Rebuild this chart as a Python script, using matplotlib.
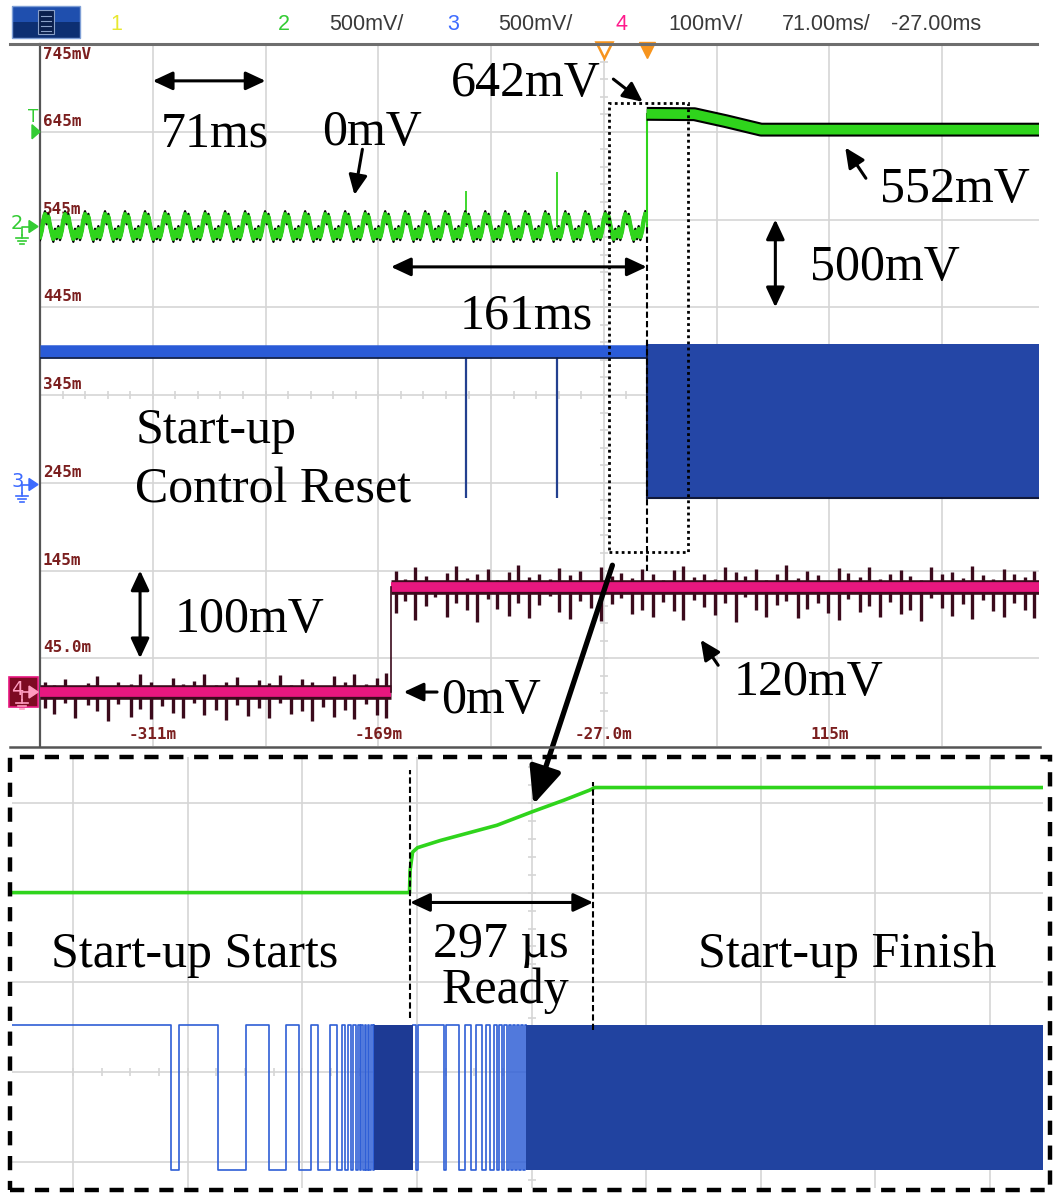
import numpy as np
import matplotlib.pyplot as plt
from matplotlib.lines import Line2D
from matplotlib.patches import Rectangle, Polygon

plt.rcParams['font.family'] = ['Liberation Serif', 'DejaVu Serif']

# ---------------- main capture (71 ms/div) ----------------
ms_per_div = 71
t_left, t_right = -382, 247      # ms visible on screen
t_delay = -27                    # horizontal position = screen centre
t_trig = 0
ch2_mv_div, ch3_mv_div, ch4_mv_div = 500, 500, 100

# ground positions in divisions from the bottom of the screen
ch2_gnd, ch3_gnd, ch4_gnd = 5.92, 2.98, 0.615

# ch4 scale readout on the left edge, time readout along the bottom
ylab_div = [1, 2, 3, 4, 5, 6, 7]
ylab_txt = ['45.0m', '145m', '245m', '345m', '445m', '545m', '645m']
top_lab = '745mV'
xlab_t = [-311, -169, -27, 115, 257]
xlab_txt = ['-311m', '-169m', '-27.0m', '115m', '257m']

# ch2 (green) output voltage, mV
ch2_ripple_mv = [-60, -25, 35, 70, 30, 55, 5, -35, -70, -30, -55, -15]
ch2_ripple_ms = 12.6
ch2_spike_t = [-113.6, -56.3]
ch2_spike_mv = [200, 310]
ch2_post_t = [0, 30, 50, 72, 247]
ch2_post_mv = [642, 640, 600, 552, 552]
ch2_trig_mv = 540

# ch3 (blue) control reset, mV
ch3_high_mv, ch3_low_mv = 760, -75
ch3_dip_t = [-113.6, -56.3]
ch3_switch_t = 0

# ch4 (pink) start-up signal, mV
ch4_step_t = -161
ch4_high_mv = 120
pink_lo_t = [-379, -373, -366, -360, -352, -346, -339, -333, -325, -319,
             -312, -305, -298, -292, -285, -279, -271, -265, -258, -251,
             -244, -238, -231, -224, -217, -211, -204, -197, -190, -184,
             -177, -170, -164]
pink_lo_up = [12, 8, 15, 6, 10, 18, 7, 12, 9, 20, 11, 6, 16, 9, 13, 21, 8,
              12, 17, 7, 14, 10, 19, 8, 15, 11, 6, 18, 12, 20, 9, 16, 22]
pink_lo_dn = [18, 25, 12, 30, 15, 22, 33, 14, 28, 19, 31, 16, 24, 30, 12, 26,
              20, 32, 15, 27, 18, 30, 13, 25, 22, 33, 17, 29, 21, 31, 14, 26, 30]
pink_hi_t = [-158, -152, -146, -139, -133, -126, -120, -113, -107, -100,
             -94, -87, -81, -74, -68, -61, -55, -48, -42, -35,
             -29, -22, -16, -9, -3, 4, 10, 17, 23, 30,
             36, 43, 49, 56, 62, 69, 75, 82, 88, 95,
             101, 108, 114, 121, 127, 134, 140, 147, 153, 160,
             166, 173, 179, 186, 192, 199, 205, 212, 218, 225,
             231, 238, 244]
pink_hi_up = [18, 9, 22, 12, 7, 16, 24, 10, 14, 20, 8, 17, 25, 11, 15, 9, 21,
              13, 18, 7, 23, 12, 16, 10, 20, 14, 8, 19, 24, 11, 15, 9, 22, 17,
              12, 20, 8, 14, 25, 10, 18, 13, 7, 21, 16, 11, 23, 9, 15, 19, 12,
              8, 22, 14, 17, 10, 24, 13, 9, 20, 15, 11, 18]
pink_hi_dn = [30, 16, 38, 22, 12, 34, 19, 27, 40, 14, 25, 33, 18, 36, 21, 11,
              29, 37, 16, 24, 39, 20, 13, 31, 26, 35, 17, 28, 38, 15, 23, 32,
              19, 40, 12, 27, 34, 21, 16, 36, 25, 18, 30, 38, 14, 29, 22, 35,
              17, 31, 26, 39, 13, 24, 33, 20, 37, 15, 28, 34, 19, 27, 36]

# zoomed window on the main capture (ms, div)
win_t = (-24, 26)
win_div = (2.21, 7.33)

# ---------------- zoomed capture (us) ----------------
us_per_div = 186
z_left, z_right = -646, 1027
z_grid0 = -547
ready_us = 297
zg_t = [-646, -1, 0, 4, 12, 49, 141, 198, 250, 291, 300, 1027]
zg_div = [3.0, 3.0, 3.25, 3.45, 3.5, 3.58, 3.75, 3.9, 4.03, 4.14, 4.17, 4.17]
zb_hi, zb_lo = 1.53, -0.09
zb_edges_a = [-388, -375, -312, -266, -229, -201, -180, -161, -149, -130,
              -118, -110, -105, -100, -96, -92, -88, -85, -82, -79, -76, -73,
              -71, -68, -66, -63, -61, -59]
zb_dense_a = (-58, 4)
zb_edges_b = [9, 13, 55, 58, 80, 89, 99, 107, 117, 123, 130, 136, 141, 145,
              149, 153, 157, 160, 164, 167, 171, 174, 177, 180, 183, 186]
zb_dense_b = (188, 1027)

GREEN = '#2fd41c'
BLUE = '#2a5bd7'
BLUE_FILL = '#2446a6'
PINK = '#e8177f'
NOISE = '#3b0a1c'
GRID = '#d5d5d5'
RED_TXT = '#7b1f1f'

W, H = 1057, 1196
fig = plt.figure(figsize=(W / 100, H / 100), dpi=100)


def box(x0, y0, x1, y1):
    return [x0 / W, 1 - y1 / H, (x1 - x0) / W, (y1 - y0) / H]


def fline(xs, ys, **kw):
    fig.add_artist(Line2D(np.array(xs) / W, 1 - np.array(ys) / H,
                          transform=fig.transFigure, **kw))


def fpoly(pts, **kw):
    fig.add_artist(Polygon([(x / W, 1 - y / H) for x, y in pts],
                           closed=True, transform=fig.transFigure, **kw))


def arrow(a, xy, xytext, style='-|>', lw=2.2, scale=20):
    a.annotate('', xy=xy, xytext=xytext,
               arrowprops=dict(arrowstyle=style + ',head_length=0.6,head_width=0.28',
                               mutation_scale=scale, lw=lw, color='black',
                               shrinkA=0, shrinkB=0),
               annotation_clip=False)


def label(a, x, y, s, ha='center'):
    a.text(x, y, s, fontsize=36, ha=ha, va='baseline', color='black', zorder=10)


# ---------------- main screen ----------------
ax = fig.add_axes(box(40, 44, 1039, 746))
ax.set_xlim(t_left, t_right)
ax.set_ylim(0, 8)
ax.set_xticks([])
ax.set_yticks([])
for s in ['top', 'right', 'bottom']:
    ax.spines[s].set_visible(False)
ax.spines['left'].set_color('#555555')
ax.spines['left'].set_linewidth(1.6)

grid_t = np.arange(t_left + ms_per_div, t_right, ms_per_div)
ax.vlines(grid_t, 0, 8, color=GRID, lw=1.2, zorder=0)
ax.hlines(range(1, 8), t_left, t_right, color=GRID, lw=1.2, zorder=0)
ax.hlines(np.arange(0.2, 8, 0.2), t_delay - 2.5, t_delay + 2.5, color=GRID, lw=1.2, zorder=0)
ax.vlines(np.arange(t_left, t_right, ms_per_div / 5), 3.955, 4.045, color=GRID, lw=1.2, zorder=0)

for d, s in zip(ylab_div, ylab_txt):
    ax.annotate(s, (t_left, d), xytext=(2, 2), textcoords='offset points',
                fontsize=11.5, family='DejaVu Sans Mono', weight='bold',
                color=RED_TXT, va='bottom', ha='left')
ax.annotate(top_lab, (t_left, 8), xytext=(2, -2), textcoords='offset points',
            fontsize=11.5, family='DejaVu Sans Mono', weight='bold',
            color=RED_TXT, va='top', ha='left')
for t, s in zip(xlab_t, xlab_txt):
    ax.annotate(s, (t, 0), xytext=(0, 8), textcoords='offset points',
                fontsize=11.5, family='DejaVu Sans Mono', weight='bold',
                color=RED_TXT, va='center', ha='center', clip_on=True)

# ch4: pink trace with dark noise
lo4 = ch4_gnd
hi4 = ch4_gnd + ch4_high_mv / ch4_mv_div
ax.vlines(pink_lo_t, lo4 - np.array(pink_lo_dn) / ch4_mv_div,
          lo4 + np.array(pink_lo_up) / ch4_mv_div, color=NOISE, lw=2.4, zorder=2)
ax.vlines(pink_hi_t, hi4 - np.array(pink_hi_dn) / ch4_mv_div,
          hi4 + np.array(pink_hi_up) / ch4_mv_div, color=NOISE, lw=2.4, zorder=2)
for a, b, lvl in [(t_left, ch4_step_t, lo4), (ch4_step_t, t_right, hi4)]:
    ax.plot([a, b], [lvl, lvl], color=NOISE, lw=10.5, solid_capstyle='butt', zorder=3)
    ax.plot([a, b], [lvl, lvl], color=PINK, lw=7, solid_capstyle='butt', zorder=3)
ax.plot([ch4_step_t, ch4_step_t], [lo4, hi4], color=NOISE, lw=1.2, zorder=3)

# ch3: blue reset line, switching after start-up
hi3 = ch3_gnd + ch3_high_mv / ch3_mv_div
lo3 = ch3_gnd + ch3_low_mv / ch3_mv_div
ax.vlines(ch3_dip_t, lo3, hi3, color='#23408f', lw=1.6, zorder=2)
ax.plot([t_left, ch3_switch_t], [hi3, hi3], color=BLUE, lw=9, solid_capstyle='butt', zorder=3)
ax.plot([t_left, ch3_switch_t], [hi3 - 0.08, hi3 - 0.08], color='#10204a', lw=1.3, zorder=3)
ax.fill_between([ch3_switch_t, t_right], lo3, hi3 + 0.08, color=BLUE_FILL, lw=0, zorder=3)
ax.plot([ch3_switch_t, t_right], [lo3, lo3], color='#10183a', lw=1.5, zorder=3)
ax.plot([ch3_switch_t, ch3_switch_t], [lo3, hi3 + 0.08], color='#10183a', lw=1.5, zorder=3)

# ch2: ripple before start-up, then step and settle
step = ch2_ripple_ms / len(ch2_ripple_mv)
n = int((t_trig - t_left) / step) + 1
rt = t_left + np.arange(n) * step
rv = ch2_gnd + np.resize(ch2_ripple_mv, n) / ch2_mv_div
ax.vlines(ch2_spike_t, ch2_gnd, ch2_gnd + np.array(ch2_spike_mv) / ch2_mv_div,
          color=GREEN, lw=1.3, zorder=4)
ax.plot(rt, rv + 0.035, color='black', lw=1.6, zorder=4)
ax.plot(rt, rv - 0.035, color='black', lw=1.6, zorder=4)
ax.plot(rt, rv, color=GREEN, lw=3.2, zorder=4)
ax.plot([t_trig, t_trig], [ch2_gnd, ch2_gnd + ch2_post_mv[0] / ch2_mv_div],
        color=GREEN, lw=1.5, zorder=4)
post = ch2_gnd + np.array(ch2_post_mv) / ch2_mv_div
ax.plot(ch2_post_t, post, color='black', lw=10, solid_capstyle='butt', zorder=4)
ax.plot(ch2_post_t, post, color=GREEN, lw=7, solid_capstyle='butt', zorder=4)

# trigger / delay markers at the top edge
ax.plot([t_delay], [7.93], marker='v', ms=11, mfc='white', mec='#f7941d', mew=1.8,
        clip_on=False, zorder=6)
ax.plot([t_trig], [7.93], marker='v', ms=11, color='#f7941d', clip_on=False, zorder=6)

# zoom window and start-up marker
ax.add_patch(Rectangle((win_t[0], win_div[0]), win_t[1] - win_t[0], win_div[1] - win_div[0],
                       fill=False, ls=(0, (1, 1.2)), lw=2, ec='black', zorder=7))
ax.vlines([t_trig], 2.0, 5.95, colors='black', ls=(0, (3, 1.5)), lw=1.5, zorder=7)

# annotations on the main screen
arrow(ax, (t_left + 2 * ms_per_div, 7.58), (t_left + ms_per_div, 7.58), '<|-|>')
label(ax, -272, 6.83, f'{ms_per_div}ms')
arrow(ax, (-184, 6.28), (-179, 6.8))
label(ax, -173, 6.85, '0mV')
arrow(ax, (-2.5, 7.34), (-21, 7.6))
label(ax, -76, 7.41, f'{ch2_post_mv[0]}mV')
arrow(ax, (125, 6.82), (138, 6.47))
label(ax, 194, 6.2, f'{ch2_post_mv[-1]}mV')
arrow(ax, (81, 6.0), (81, 5.0), '<|-|>')
label(ax, 150, 5.31, f'{ch2_mv_div}mV')
arrow(ax, (t_trig, 5.46), (ch4_step_t, 5.46), '<|-|>')
label(ax, -76, 4.76, f'{t_trig - ch4_step_t}ms')
label(ax, -322, 3.45, 'Start-up', ha='left')
label(ax, -322, 2.78, 'Control Reset', ha='left')
arrow(ax, (-319, 2.0), (-319, 1.0), '<|-|>')
label(ax, -250, 1.30, f'{ch4_mv_div}mV')
arrow(ax, (-153, ch4_gnd), (-132, ch4_gnd))
label(ax, -98, 0.376, '0mV')
arrow(ax, (34, 1.21), (45, 0.92))
label(ax, 102, 0.58, f'{ch4_high_mv}mV')

# ---------------- zoomed screen ----------------
axz = fig.add_axes(box(12, 757, 1043, 1188))
axz.set_xlim(z_left, z_right)
axz.set_ylim(-0.29, 4.51)
axz.set_xticks([])
axz.set_yticks([])
for s in axz.spines.values():
    s.set_visible(False)

zgrid = np.arange(z_grid0, z_right, us_per_div)
axz.vlines(zgrid, -0.29, 4.51, color=GRID, lw=1.2, zorder=0)
axz.hlines(range(0, 5), z_left, z_right, color=GRID, lw=1.2, zorder=0)
zc = z_grid0 + 4 * us_per_div
axz.hlines(np.arange(-0.2, 4.5, 0.2), zc - 6.5, zc + 6.5, color=GRID, lw=1.2, zorder=0)
axz.vlines(np.arange(z_grid0, z_right, us_per_div / 4), 0.955, 1.045, color=GRID, lw=1.2, zorder=0)


def square(t0, t1, edges, hi, lo):
    ts, ys, level = [t0], [hi], hi
    for e in edges:
        ts.append(e)
        ys.append(level)
        level = lo if level == hi else hi
        ts.append(e)
        ys.append(level)
    ts.append(t1)
    ys.append(level)
    return ts, ys


for t0, t1, edges in [(z_left, zb_dense_a[0], zb_edges_a),
                      (zb_dense_a[1], zb_dense_b[0], zb_edges_b)]:
    ts, ys = square(t0, t1, edges, zb_hi, zb_lo)
    axz.plot(ts, ys, color='#2f5fd6', lw=1.2, zorder=3)
axz.fill_between(zb_dense_a, zb_lo, zb_hi, color='#1d3a94', lw=0, zorder=3)
axz.fill_between(zb_dense_b, zb_lo, zb_hi, color='#2143a0', lw=0, zorder=3)

axz.plot(zg_t, zg_div, color=GREEN, lw=2.6, zorder=4)

axz.vlines([0], 1.6, 4.37, colors='black', ls=(0, (3, 1.5)), lw=1.5, zorder=5)
axz.vlines([ready_us], 1.47, 4.23, colors='black', ls=(0, (3, 1.5)), lw=1.5, zorder=5)
arrow(axz, (ready_us, 2.89), (0, 2.89), '<|-|>')
label(axz, 148, 2.28, f'{ready_us} µs')
label(axz, 154, 1.77, 'Ready')
label(axz, -349, 2.17, 'Start-up Starts')
label(axz, 709, 2.17, 'Start-up Finish')

# link from the zoom window to the zoomed capture
axz.annotate('', xy=(200, 3.98), xytext=(-21.6, 2.06), textcoords=ax.transData,
             arrowprops=dict(arrowstyle='-|>,head_length=0.5,head_width=0.22',
                             mutation_scale=45, lw=3.8, color='black',
                             shrinkA=0, shrinkB=0),
             annotation_clip=False)

fig.add_artist(Rectangle((10 / W, 1 - 1190 / H), 1040 / W, 433 / H, fill=False,
                         transform=fig.transFigure, ec='black', lw=3.2,
                         ls=(0, (3.2, 2.4))))

# ---------------- scope frame and header ----------------
fline([10, 1037], [44, 44], color='#6e6e6e', lw=2.2)
fline([10, 1040], [747, 747], color='#555555', lw=1.8)

fig.add_artist(Rectangle((12 / W, 1 - 22 / H), 68 / W, 16 / H, transform=fig.transFigure,
                         fc='#1f4fae', ec='none'))
fig.add_artist(Rectangle((12 / W, 1 - 38 / H), 68 / W, 16 / H, transform=fig.transFigure,
                         fc='#0d2f72', ec='none'))
fig.add_artist(Rectangle((12 / W, 1 - 38 / H), 68 / W, 32 / H, transform=fig.transFigure,
                         fill=False, ec='#7f9fd6', lw=1))
fig.add_artist(Rectangle((38 / W, 1 - 34 / H), 16 / W, 24 / H, transform=fig.transFigure,
                         fc='#0a1f4d', ec='#8aa0c8', lw=0.8))
for yy in (16, 21, 26, 31):
    fline([41, 51], [yy, yy], color='#8aa0c8', lw=0.8)

hdr = [(110, '1', '#e8e830'), (278, '2', '#33cc33'), (329, f'{ch2_mv_div}mV/', '#3a3a3a'),
       (447, '3', '#3d6bff'), (498, f'{ch3_mv_div}mV/', '#3a3a3a'),
       (615, '4', '#ff1a8c'), (668, f'{ch4_mv_div}mV/', '#3a3a3a'),
       (782, f'{ms_per_div:.2f}ms/', '#3a3a3a'), (891, f'{t_delay:.2f}ms', '#3a3a3a')]
for x, s, c in hdr:
    fig.text(x / W, 1 - 24 / H, s, color=c, fontsize=15.5, family='Liberation Sans',
             ha='left', va='center')


# channel ground markers on the left edge
def ypix(y):
    return H - ax.transData.transform((t_left, y))[1]


def ch_marker(y, color, num, face=None):
    yc = ypix(y)
    if face is not None:
        fig.add_artist(Rectangle((9 / W, 1 - (yc + 15) / H), 29 / W, 30 / H,
                                 transform=fig.transFigure, fc=face, ec=color, lw=1.2))
        color = '#ff9cc0'
    fig.text(11 / W, 1 - (yc - 3) / H, num, color=color, fontsize=14,
             family='DejaVu Sans', ha='left', va='center')
    fline([22, 22, 30], [yc + 8, yc, yc], color=color, lw=1.2)
    fline([22, 22], [yc + 8, yc + 11], color=color, lw=1.2)
    for w, dy in ((6, 11), (4, 14), (2, 17)):
        fline([22 - w, 22 + w], [yc + dy, yc + dy], color=color, lw=1.2)
    fpoly([(29, yc - 6), (29, yc + 6), (38, yc)], color=color)


yt = ypix(ch2_gnd + ch2_trig_mv / ch2_mv_div)
fig.text(33 / W, 1 - (yt - 15) / H, 'T', color='#33cc33', fontsize=12,
         family='DejaVu Sans', ha='center', va='center')
fpoly([(32, yt - 7), (32, yt + 7), (40, yt)], color='#33cc33')
ch_marker(ch2_gnd, '#33cc33', '2')
ch_marker(2.98, '#3d6bff', '3')
ch_marker(ch4_gnd, '#e8177f', '4', face='#7d0a22')

fig.savefig('out.png', dpi=100)
